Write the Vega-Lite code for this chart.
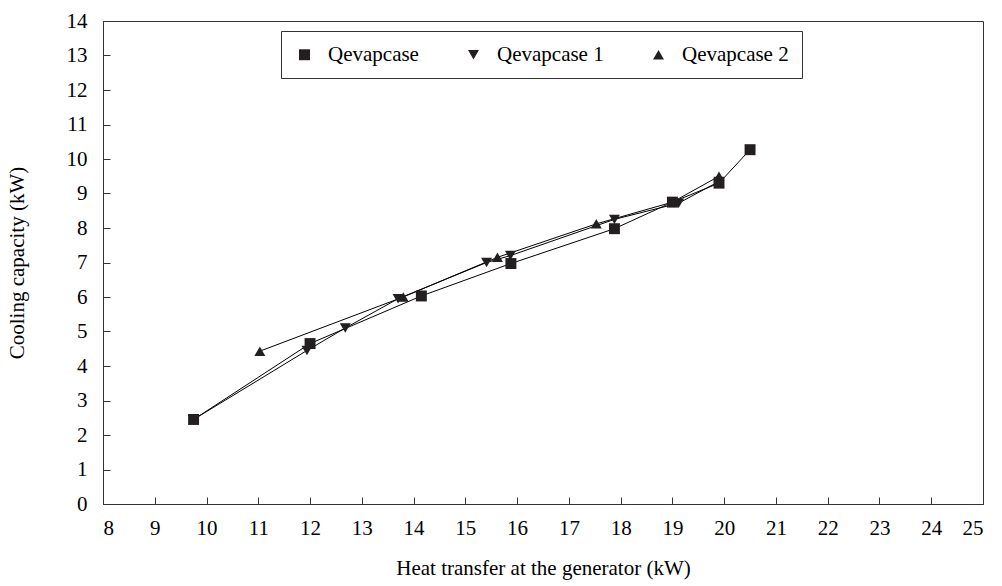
{
  "$schema": "https://vega.github.io/schema/vega-lite/v6.json",
  "width": 880,
  "height": 483,
  "autosize": {"type": "none"},
  "padding": {"left": 103, "top": 21, "right": 19, "bottom": 82},
  "background": "white",
  "config": {
    "font": "Liberation Serif",
    "view": {"stroke": "#333333", "strokeWidth": 1},
    "axis": {
      "grid": false,
      "domainColor": "#333333",
      "tickColor": "#333333",
      "tickSize": -7,
      "labelFont": "Liberation Serif",
      "labelFontSize": 21,
      "labelColor": "black",
      "titleFont": "Liberation Serif",
      "titleFontSize": 21,
      "titleFontWeight": "normal",
      "titleColor": "black"
    }
  },
  "data": {
    "values": [
      {"series": "Qevapcase 2", "q_gen": 11.03, "q_evap": 4.43},
      {"series": "Qevapcase 2", "q_gen": 13.8, "q_evap": 6.0},
      {"series": "Qevapcase 2", "q_gen": 15.62, "q_evap": 7.15},
      {"series": "Qevapcase 2", "q_gen": 17.53, "q_evap": 8.12},
      {"series": "Qevapcase 2", "q_gen": 19.0, "q_evap": 8.75},
      {"series": "Qevapcase 2", "q_gen": 19.9, "q_evap": 9.5},
      {"series": "Qevapcase 1", "q_gen": 9.75, "q_evap": 2.45},
      {"series": "Qevapcase 1", "q_gen": 11.94, "q_evap": 4.45},
      {"series": "Qevapcase 1", "q_gen": 12.68, "q_evap": 5.1},
      {"series": "Qevapcase 1", "q_gen": 13.7, "q_evap": 5.95},
      {"series": "Qevapcase 1", "q_gen": 15.41, "q_evap": 7.0},
      {"series": "Qevapcase 1", "q_gen": 15.87, "q_evap": 7.2},
      {"series": "Qevapcase 1", "q_gen": 17.88, "q_evap": 8.25},
      {"series": "Qevapcase 1", "q_gen": 19.12, "q_evap": 8.72},
      {"series": "Qevapcase 1", "q_gen": 19.9, "q_evap": 9.35},
      {"series": "Qevapcase", "q_gen": 9.75, "q_evap": 2.45},
      {"series": "Qevapcase", "q_gen": 12.0, "q_evap": 4.65},
      {"series": "Qevapcase", "q_gen": 14.15, "q_evap": 6.03},
      {"series": "Qevapcase", "q_gen": 15.88, "q_evap": 6.97},
      {"series": "Qevapcase", "q_gen": 17.88, "q_evap": 7.98},
      {"series": "Qevapcase", "q_gen": 19.0, "q_evap": 8.75},
      {"series": "Qevapcase", "q_gen": 19.9, "q_evap": 9.3},
      {"series": "Qevapcase", "q_gen": 20.5, "q_evap": 10.27}
    ]
  },
  "encoding": {
    "x": {
      "field": "q_gen",
      "type": "quantitative",
      "scale": {"domain": [8, 25], "nice": false, "zero": false},
      "axis": {
        "title": "Heat transfer at the generator (kW)",
        "values": [8, 9, 10, 11, 12, 13, 14, 15, 16, 17, 18, 19, 20, 21, 22, 23, 24, 25],
        "labelPadding": 20,
        "titlePadding": 19
      }
    },
    "y": {
      "field": "q_evap",
      "type": "quantitative",
      "scale": {"domain": [0, 14], "nice": false},
      "axis": {
        "title": "Cooling capacity (kW)",
        "values": [0, 1, 2, 3, 4, 5, 6, 7, 8, 9, 10, 11, 12, 13, 14],
        "labelPadding": 23,
        "titlePadding": 39
      }
    }
  },
  "layer": [
    {
      "mark": {"type": "line", "color": "black", "strokeWidth": 1},
      "encoding": {"detail": {"field": "series", "type": "nominal"}}
    },
    {
      "mark": {"type": "point", "filled": true, "opacity": 1, "color": "#231f20", "size": 120},
      "encoding": {
        "shape": {
          "field": "series",
          "type": "nominal",
          "sort": null,
          "scale": {
            "domain": ["Qevapcase", "Qevapcase 1", "Qevapcase 2"],
            "range": ["square", "triangle-down", "triangle-up"]
          },
          "legend": {
            "title": null,
            "orient": "none",
            "legendX": 178,
            "legendY": 10,
            "direction": "horizontal",
            "padding": 13,
            "strokeColor": "#333333",
            "fillColor": "white",
            "labelFont": "Liberation Serif",
            "labelFontSize": 21,
            "labelColor": "black",
            "labelOffset": 13,
            "columnPadding": 44,
            "symbolSize": 120,
            "symbolFillColor": "#231f20",
            "symbolStrokeWidth": 0
          }
        }
      }
    }
  ]
}
